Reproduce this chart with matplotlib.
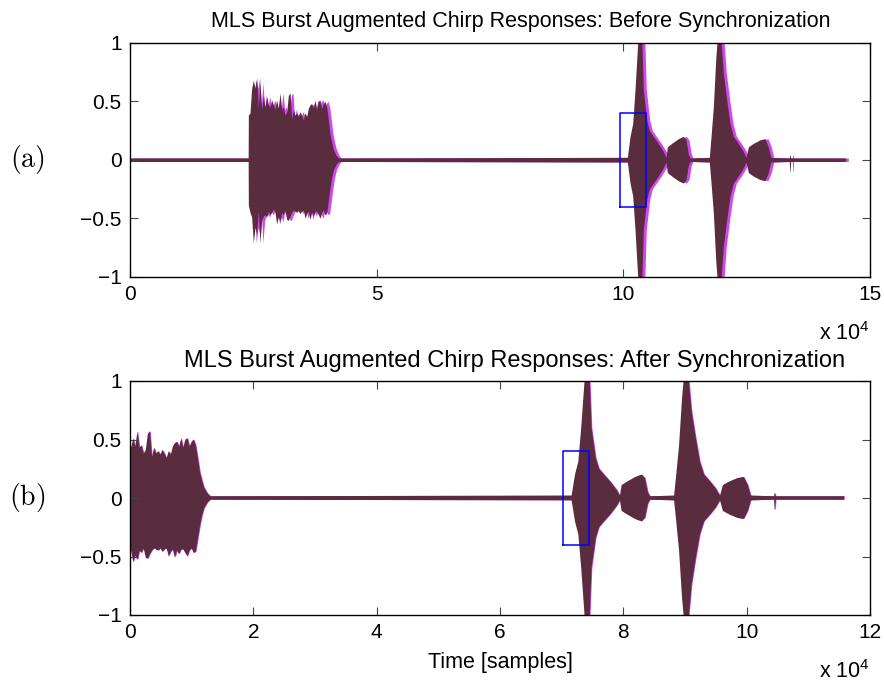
import numpy as np
import matplotlib.pyplot as plt

plt.rcParams['font.family'] = ['Liberation Sans', 'DejaVu Sans']
plt.rcParams['mathtext.fontset'] = 'custom'
plt.rcParams['mathtext.rm'] = 'Liberation Sans'

# ------------------------------------------------------------------
# DATA (envelopes, sample index / amplitude)
# ------------------------------------------------------------------
SIGNAL_END = 145000
NOISE_FLOOR = 0.015

# MLS burst: upper / lower envelope (first point = onset)
BURST_T = [23950, 23990, 24320, 24660, 25000, 25340, 25680, 26010, 26350, 26690, 27030,
           27370, 27700, 28040, 28380, 28720, 29060, 29390, 29730, 30070, 30410,
           30750, 31080, 31420, 31760, 32100, 32440, 32770, 33110, 33450, 33790,
           34130, 34460, 34800, 35140, 35480, 35820, 36150, 36490, 36830, 37170,
           37510, 37840, 38180, 38520, 38860, 39200, 39530, 39870, 40210, 40550,
           40890, 41220, 41760, 42230]
BURST_UP = [0.0, 0.38, 0.40, 0.61, 0.68, 0.61, 0.70, 0.45, 0.66, 0.43, 0.55,
            0.45, 0.54, 0.47, 0.45, 0.51, 0.47, 0.43, 0.51, 0.44, 0.57,
            0.43, 0.45, 0.38, 0.41, 0.55, 0.57, 0.35, 0.43, 0.38, 0.40,
            0.37, 0.41, 0.38, 0.34, 0.40, 0.37, 0.44, 0.47, 0.48, 0.44,
            0.51, 0.43, 0.50, 0.51, 0.44, 0.48, 0.50, 0.45, 0.34, 0.22,
            0.15, 0.09, 0.04, 0.01]
BURST_LO = [0.0, 0.39, 0.45, 0.49, 0.71, 0.58, 0.63, 0.44, 0.71, 0.52, 0.48,
            0.47, 0.49, 0.44, 0.47, 0.45, 0.42, 0.45, 0.55, 0.49, 0.53,
            0.45, 0.47, 0.43, 0.51, 0.52, 0.48, 0.45, 0.43, 0.44, 0.45,
            0.43, 0.46, 0.44, 0.43, 0.50, 0.46, 0.44, 0.51, 0.45, 0.48,
            0.44, 0.44, 0.47, 0.50, 0.45, 0.43, 0.47, 0.46, 0.35, 0.24,
            0.15, 0.09, 0.04, 0.01]

# first augmented chirp (symmetric envelope)
CHIRP1_T = [100810, 101360, 101900, 102370, 102720, 102980, 103730, 104050,
            104740, 105270, 106080, 107090, 108110, 108650, 108920, 109810,
            111150, 112160, 112710, 113170, 113520]
CHIRP1_AMP = [0.02, 0.20, 0.31, 0.60, 0.86, 1.05, 1.05, 0.60,
              0.34, 0.25, 0.20, 0.14, 0.07, 0.02, 0.11, 0.14,
              0.18, 0.20, 0.17, 0.05, 0.01]

# second augmented chirp
CHIRP2_T = [117430, 117780, 118240, 118730, 119060, 119750, 120280, 120960,
            121630, 122300, 123310, 124210, 124870, 125340, 126350, 127710,
            128720, 129390, 129880]
CHIRP2_AMP = [0.02, 0.20, 0.45, 0.86, 1.05, 1.05, 0.74, 0.51,
              0.31, 0.20, 0.14, 0.08, 0.02, 0.11, 0.14, 0.17,
              0.18, 0.11, 0.02]

# small click after the second chirp
SPIKE_T = [133640, 133740, 133820, 133920]
SPIKE_UP = [0.0, 0.04, 0.04, 0.0]
SPIKE_LO = [0.0, 0.10, 0.10, 0.0]

# alignment
MAGENTA_DELAY = 600        # second response lags before sync
SYNC_OFFSET = 29200        # removed by synchronization
MAGENTA_RESIDUAL = 120     # left over after sync

# analysis windows (blue boxes)
BOX_TOP_X = [99300, 104600]
BOX_BOT_X = [70200, 74500]
BOX_Y = [-0.4, 0.4]

TITLES = ['MLS Burst Augmented Chirp Responses: Before Synchronization',
          'MLS Burst Augmented Chirp Responses: After Synchronization']
PANEL_LABELS = [r'$(\mathrm{a})$', r'$(\mathrm{b})$']
XTICKS_TOP = [0, 5, 10, 15]
XTICKS_BOT = [0, 2, 4, 6, 8, 10, 12]
YTICKS = [-1, -0.5, 0, 0.5, 1]
YTICK_LABELS = ['\u22121', '\u22120.5', '0', '0.5', '1']

MAROON = '#5a2d3e'
MAGENTA = '#d444f2'


def envelope(shift):
    t = np.concatenate([[0], BURST_T, CHIRP1_T, CHIRP2_T, SPIKE_T, [SIGNAL_END]]).astype(float)
    up = np.concatenate([[0], BURST_UP, CHIRP1_AMP, CHIRP2_AMP, SPIKE_UP, [0]])
    lo = np.concatenate([[0], BURST_LO, CHIRP1_AMP, CHIRP2_AMP, SPIKE_LO, [0]])
    up = np.maximum(up, NOISE_FLOOR)
    lo = np.maximum(lo, NOISE_FLOOR)
    return t + shift, up, -lo


def style_axes(ax, xmax, xticks):
    ax.set_xlim(0, xmax * 1e4)
    ax.set_ylim(-1, 1)
    ax.set_xticks(np.array(xticks) * 1e4)
    ax.set_xticklabels([str(v) for v in xticks])
    ax.set_yticks(YTICKS)
    ax.set_yticklabels(YTICK_LABELS)
    ax.tick_params(direction='in', length=6, width=0.8, color='#444444',
                   top=True, right=True, labelsize=15, pad=6)
    for s in ax.spines.values():
        s.set_linewidth(1.0)
    ax.text(1.0, -57 / 234, r'x $\mathregular{10^4}$', transform=ax.transAxes,
            ha='right', va='center', fontsize=15.5)


fig = plt.figure(figsize=(8.84, 6.83), dpi=100)
ax_top = fig.add_axes([130 / 884, 1 - 276.7 / 683, 740 / 884, 234 / 683])
ax_bot = fig.add_axes([130 / 884, 1 - 615 / 683, 740 / 884, 234 / 683])

# before synchronization
t, up, lo = envelope(MAGENTA_DELAY)
ax_top.fill_between(t, lo, up, color=MAGENTA, lw=0)
t, up, lo = envelope(0)
ax_top.fill_between(t, lo, up, color=MAROON, lw=0)
ax_top.plot([BOX_TOP_X[0], BOX_TOP_X[1], BOX_TOP_X[1], BOX_TOP_X[0], BOX_TOP_X[0]],
            [BOX_Y[0], BOX_Y[0], BOX_Y[1], BOX_Y[1], BOX_Y[0]], color='#0000ff', lw=1.1)

# after synchronization
t, up, lo = envelope(-SYNC_OFFSET + MAGENTA_RESIDUAL)
ax_bot.fill_between(t, lo, up, color=MAGENTA, lw=0)
t, up, lo = envelope(-SYNC_OFFSET)
ax_bot.fill_between(t, lo, up, color=MAROON, lw=0)
ax_bot.plot([BOX_BOT_X[0], BOX_BOT_X[1], BOX_BOT_X[1], BOX_BOT_X[0], BOX_BOT_X[0]],
            [BOX_Y[0], BOX_Y[0], BOX_Y[1], BOX_Y[1], BOX_Y[0]], color='#0000ff', lw=1.1)

style_axes(ax_top, 15, XTICKS_TOP)
style_axes(ax_bot, 12, XTICKS_BOT)

ax_top.set_title(TITLES[0], fontsize=15.5, pad=11, x=0.528)
ax_bot.set_title(TITLES[1], fontsize=17, pad=10, x=0.52)
ax_bot.set_xlabel('Time [samples]', fontsize=15.5, labelpad=7)

fig.text(27 / 884, 1 - 160 / 683, PANEL_LABELS[0], math_fontfamily='cm',
         fontsize=20, ha='center', va='center')
fig.text(27 / 884, 1 - 497 / 683, PANEL_LABELS[1], math_fontfamily='cm',
         fontsize=20, ha='center', va='center')

fig.savefig('out.png', dpi=100)
